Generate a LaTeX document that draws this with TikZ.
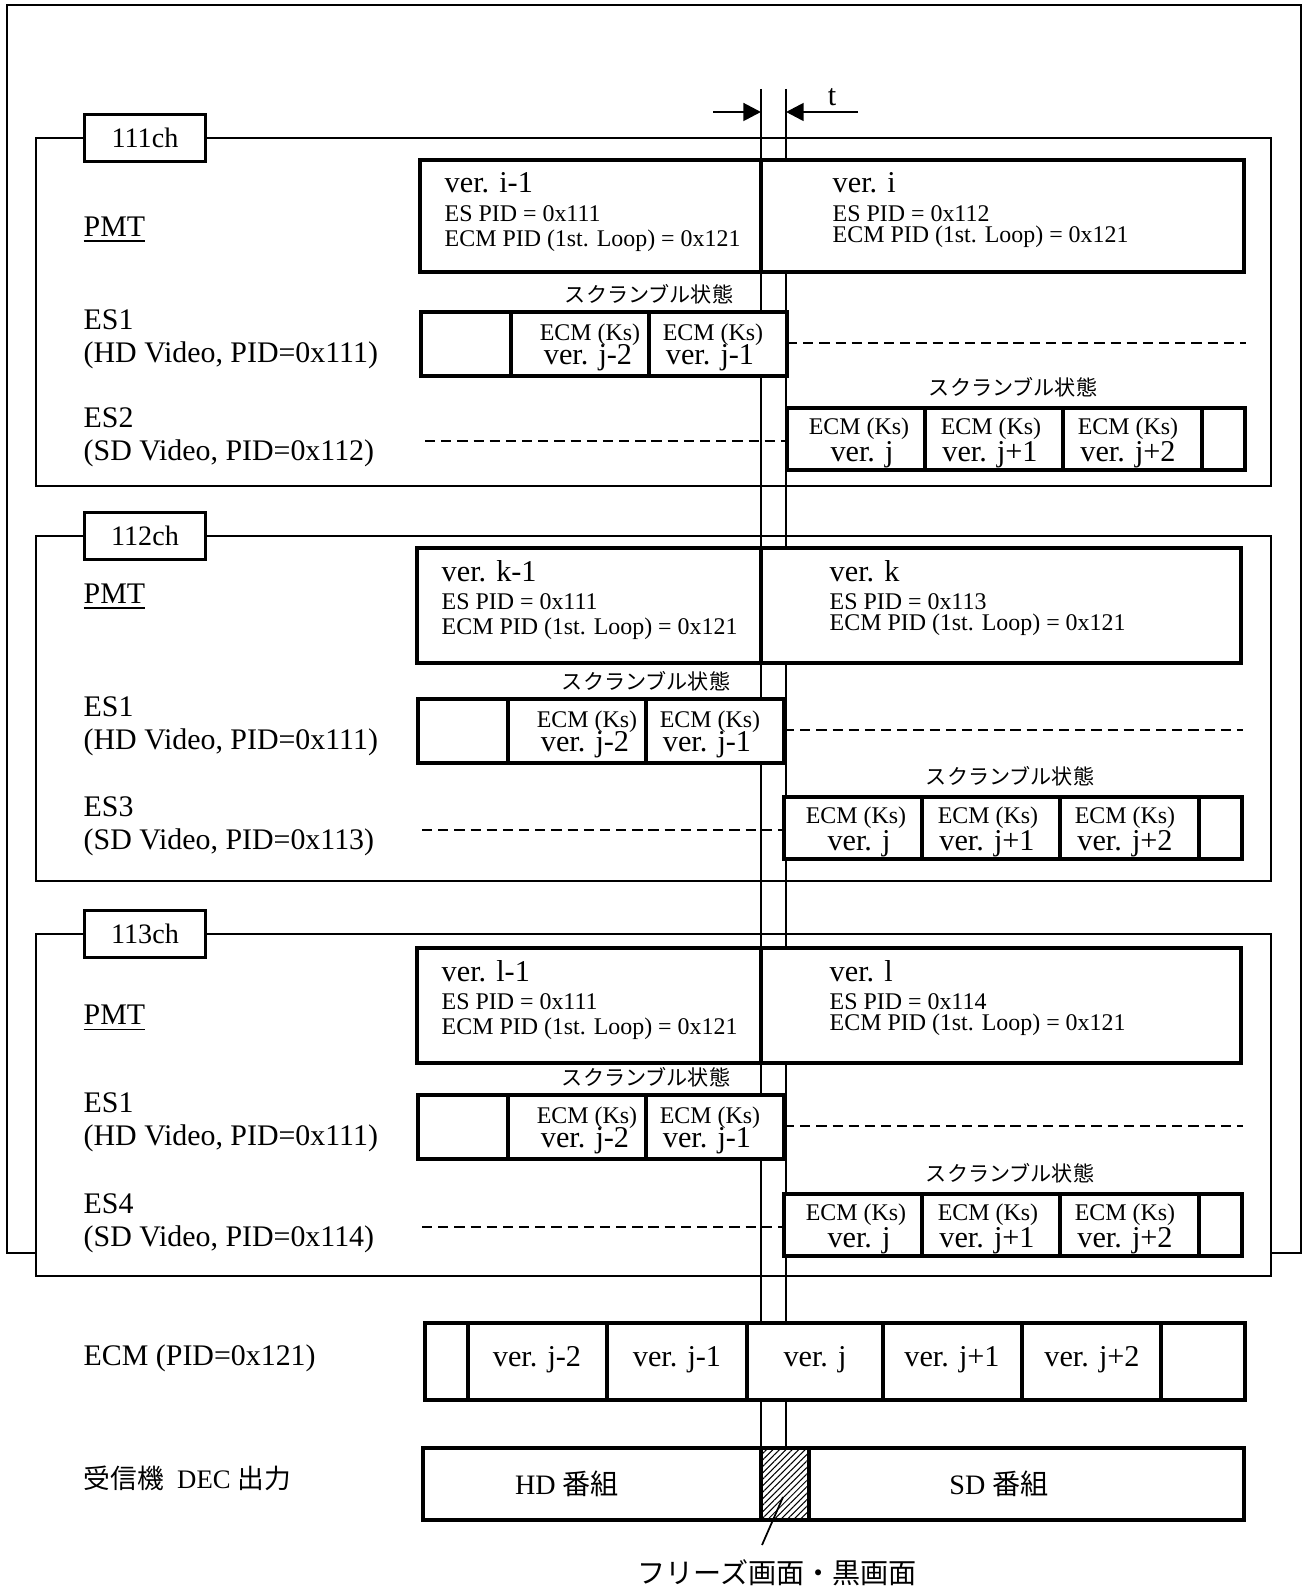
\documentclass[tikz,border=0pt]{standalone}
\usepackage{fontspec}
\setmainfont{Liberation Serif}
\newfontfamily\jp{Noto Sans CJK JP}
\usetikzlibrary{arrows.meta,patterns.meta}

\tikzset{
  outer/.style={draw,line width=0.6pt},
  chan/.style={draw,line width=0.4pt},
  tag/.style={draw,fill=white,line width=0.6pt,minimum width=1.21cm,minimum height=0.47cm,inner sep=0pt,font=\fontsize{8}{9}\selectfont},
  box/.style={draw,fill=white,line width=1pt},
  lbl/.style={anchor=west,inner sep=0pt,align=left,font=\fontsize{8.5}{9.4}\selectfont},
  small/.style={inner sep=0pt,font=\fontsize{6.8}{8}\selectfont},
  big/.style={inner sep=0pt,font=\fontsize{8.6}{10}\selectfont},
  scr/.style={inner sep=0pt,font=\jp\fontsize{6}{7}\selectfont},
  gap/.style={line width=0.6pt,dash pattern=on 2.9pt off 1.7pt},
  guide/.style={line width=0.45pt},
  tip/.style={line width=0.8pt,-{Triangle[length=5pt,width=5pt]}},
}

\begin{document}
\begin{tikzpicture}[x=0.01cm,y=-0.01cm]
  \useasboundingbox (0,0) rectangle (1306,1589);

  % outer frame
  \draw[outer] (36,1253) -- (7,1253) -- (7,5) -- (1301,5) -- (1301,1253) -- (1271,1253);

  % switching instants
  \coordinate (tl) at (761,89);
  \coordinate (tr) at (786,89);
  \coordinate (bl) at (761,1448);
  \coordinate (br) at (786,1448);
  \draw[guide] (tl) -- (bl);
  \draw[guide] (tr) -- (br);
  \coordinate (al) at (713,112);
  \coordinate (ar) at (858,112);
  \draw[tip] (al) -- (al -| tl);
  \draw[tip] (ar) -- (ar -| tr);
  \node[big] (t) at (832,97) {t};

  % channels
  \foreach \c/\t/\b/\p/\q/\m/\u/\w/\s/\v/\n/\e in {
    111ch/138/486/160/272/230/312/408/0/i/112/ES2,
    112ch/536/881/548/663/597/699/797/-3/k/113/ES3,
    113ch/934/1276/948/1063/1018/1095/1194/-3/l/114/ES4}{
    \draw[chan] (36,\t) rectangle (1271,\b);
    \node[tag] (tag-\c) at (145,\t) {\c};

    % PMT
    \node[lbl] (pmt-\c) at (83,\m) {\underline{PMT}};
    \draw[box] (\s+420,\p) rectangle (\s+1244,\q);
    \draw[box] (761,\p) -- (761,\q);
    \node[big,anchor=west] (old-\c) at (\s+444,\p+23) {ver. \v-1};
    \node[small,anchor=west] (oldes-\c) at (\s+444,\p+54) {ES PID = 0x111};
    \node[small,anchor=west] (oldecm-\c) at (\s+444,\p+81) {ECM PID (1st. Loop) = 0x121};
    \node[big,anchor=west] (new-\c) at (\s+832,\p+23) {ver. \v};
    \node[small,anchor=west] (newes-\c) at (\s+832,\p+54) {ES PID = 0x\n};
    \node[small,anchor=west] (newecm-\c) at (\s+832,\p+77) {ECM PID (1st. Loop) = 0x121};

    % ES1 (HD)
    \node[lbl] (hd-\c) at (83,\u+27) {ES1\\(HD Video, PID=0x111)};
    \node[scr] (scra-\c) at (\s+649,\u-18) {スクランブル状態};
    \draw[box] (\s+421,\u) rectangle (\s+511,\u+64);
    \draw[box] (\s+511,\u) rectangle (\s+649,\u+64);
    \draw[box] (\s+649,\u) rectangle (\s+787,\u+64);
    \node[small] (ha-\c) at (\s+590,\u+23) {ECM (Ks)};
    \node[big] (hav-\c) at (\s+588,\u+46) {ver. j-2};
    \node[small] (hb-\c) at (\s+713,\u+23) {ECM (Ks)};
    \node[big] (hbv-\c) at (\s+710,\u+46) {ver. j-1};
    \coordinate (hs-\c) at (\s+787,\u+31);
    \coordinate (he-\c) at (\s+1246,\u+31);
    \draw[gap] (hs-\c) -- (he-\c);

    % ES2..4 (SD)
    \node[lbl] (sd-\c) at (83,\w+29) {\e\\(SD Video, PID=0x\n)};
    \node[scr] (scrb-\c) at (\s+1013,\w-21) {スクランブル状態};
    \draw[box] (\s+787,\w) rectangle (\s+925,\w+62);
    \draw[box] (\s+925,\w) rectangle (\s+1063,\w+62);
    \draw[box] (\s+1063,\w) rectangle (\s+1202,\w+62);
    \draw[box] (\s+1202,\w) rectangle (\s+1245,\w+62);
    \node[small] (sa-\c) at (\s+859,\w+21) {ECM (Ks)};
    \node[big] (sav-\c) at (\s+862,\w+47) {ver. j};
    \node[small] (sb-\c) at (\s+991,\w+21) {ECM (Ks)};
    \node[big] (sbv-\c) at (\s+990,\w+47) {ver. j+1};
    \node[small] (sc-\c) at (\s+1128,\w+21) {ECM (Ks)};
    \node[big] (scv-\c) at (\s+1128,\w+47) {ver. j+2};
    \coordinate (ss-\c) at (\s+425,\w+33);
    \coordinate (se-\c) at (\s+787,\w+33);
    \draw[gap] (ss-\c) -- (se-\c);
  }

  % ECM stream
  \node[lbl] (ecm) at (83,1358) {ECM (PID=0x121)};
  \draw[box] (425,1323) rectangle (468,1400);
  \draw[box] (468,1323) rectangle (607,1400);
  \draw[box] (607,1323) rectangle (747,1400);
  \draw[box] (747,1323) rectangle (883,1400);
  \draw[box] (883,1323) rectangle (1022,1400);
  \draw[box] (1022,1323) rectangle (1161,1400);
  \draw[box] (1161,1323) rectangle (1245,1400);
  \node[big] (e1) at (537,1360) {ver. j-2};
  \node[big] (e2) at (677,1360) {ver. j-1};
  \node[big] (e3) at (815,1360) {ver. j};
  \node[big] (e4) at (952,1360) {ver. j+1};
  \node[big] (e5) at (1092,1360) {ver. j+2};

  % decoder output
  \node[lbl,font=\fontsize{7.6}{9}\selectfont] (dec) at (83,1478) {{\jp 受信機}\ \ DEC {\jp 出力}};
  \draw[box] (423,1448) rectangle (1244,1520);
  \draw[box,pattern={Lines[angle=45,distance=1.3pt,line width=0.3pt]}] (761,1448) rectangle (809,1520);
  \node[inner sep=0pt,font=\fontsize{8}{9}\selectfont] (hd) at (567,1484) {HD {\jp 番組}};
  \node[inner sep=0pt,font=\fontsize{8}{9}\selectfont] (sd) at (999,1484) {SD {\jp 番組}};
  \node[inner sep=0pt,font=\jp\fontsize{8}{9}\selectfont] (frz) at (777,1573) {フリーズ画面・黒画面};
  \coordinate (hp) at (783,1497);
  \draw[line width=0.5pt] (hp) -- (762,1545);
\end{tikzpicture}
\end{document}
